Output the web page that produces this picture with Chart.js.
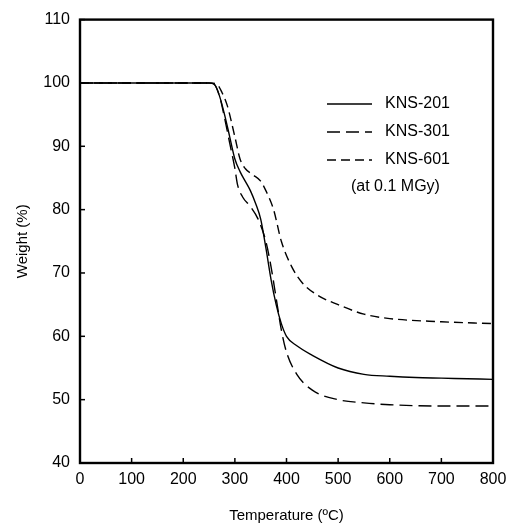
<!DOCTYPE html>
<html>
<head>
<meta charset="utf-8">
<script src="https://cdn.jsdelivr.net/npm/chart.js@4.4.1/dist/chart.umd.min.js"></script>
<style>
  html, body { margin: 0; padding: 0; background: #fff; }
  #wrap { width: 510px; height: 529px; }
</style>
</head>
<body>
<div id="wrap"><canvas id="tga"></canvas></div>
<script>
// Temperature (°C) / weight (%)
const temps201 = [0, 100, 200, 250, 260, 270, 280, 290, 300, 310, 320, 330, 340, 350, 360, 370, 380, 390, 400, 420, 450, 500, 550, 600, 650, 700, 750, 800];
const kns201   = [100, 100, 100, 100, 99.8, 98, 95, 91.5, 88, 86, 84.5, 83, 81, 78.5, 74, 69, 65, 62, 60, 58.5, 57, 55, 54, 53.7, 53.5, 53.4, 53.3, 53.2];

const temps301 = [0, 100, 200, 250, 260, 270, 280, 290, 300, 305, 315, 330, 345, 360, 370, 380, 390, 400, 420, 450, 500, 550, 600, 700, 800];
const kns301   = [100, 100, 100, 100, 99.8, 98, 94.5, 90.5, 86.5, 84, 82, 80.5, 78.5, 75, 71, 66, 61, 57.5, 54, 51.5, 50, 49.5, 49.2, 49, 49];

const temps601 = [0, 100, 200, 250, 265, 275, 285, 300, 310, 320, 335, 350, 360, 375, 390, 410, 430, 460, 500, 550, 600, 700, 800];
const kns601   = [100, 100, 100, 100, 99.8, 98.5, 96.5, 91.5, 88, 86.5, 85.5, 84.5, 83, 80, 75, 71, 68.5, 66.5, 65, 63.5, 62.8, 62.3, 62];

const xTicks = [0, 100, 200, 300, 400, 500, 600, 700, 800];
const yTicks = [40, 50, 60, 70, 80, 90, 100, 110];

const legendItems = [
  { label: "KNS-201", dash: [] },
  { label: "KNS-301", dash: [13, 6] },
  { label: "KNS-601", dash: [9, 5] }
];

const pts = (xs, ys) => xs.map((x, i) => ({ x: x, y: ys[i] }));
const FONT = "'Liberation Sans', Arial, sans-serif";

// frame, inward ticks and the legend block
const decor = {
  id: "decor",
  afterDraw(chart) {
    const c = chart.ctx, a = chart.chartArea;
    const xs = chart.scales.x, ys = chart.scales.y;
    c.save();
    c.strokeStyle = "#000";
    c.lineWidth = 1.5;
    xTicks.forEach(t => {
      const px = xs.getPixelForValue(t);
      c.beginPath(); c.moveTo(px, a.bottom); c.lineTo(px, a.bottom - 5); c.stroke();
    });
    yTicks.forEach(t => {
      const py = ys.getPixelForValue(t);
      c.beginPath(); c.moveTo(a.left, py); c.lineTo(a.left + 5, py); c.stroke();
    });
    c.lineWidth = 2.4;
    c.strokeRect(a.left, a.top, a.right - a.left, a.bottom - a.top);

    c.font = "16px " + FONT;
    c.fillStyle = "#000";
    c.textBaseline = "middle";
    legendItems.forEach((it, i) => {
      const y = 104 + i * 28;
      c.lineWidth = 1.4;
      c.setLineDash(it.dash);
      c.beginPath(); c.moveTo(327, y); c.lineTo(372, y); c.stroke();
      c.setLineDash([]);
      c.fillText(it.label, 385, y);
    });
    c.fillText("(at 0.1 MGy)", 351, 187);
    c.restore();
  }
};

const line = (data, dash) => ({
  data: data,
  showLine: true,
  borderColor: "#000",
  borderWidth: 1.4,
  borderDash: dash,
  pointRadius: 0,
  cubicInterpolationMode: "monotone",
  fill: false
});

new Chart(document.getElementById("tga"), {
  type: "scatter",
  data: {
    datasets: [
      line(pts(temps201, kns201), legendItems[0].dash),
      line(pts(temps301, kns301), legendItems[1].dash),
      line(pts(temps601, kns601), legendItems[2].dash)
    ]
  },
  options: {
    responsive: true,
    maintainAspectRatio: false,
    animation: false,
    layout: { padding: { left: 0, top: 16, right: 17, bottom: 0 } },
    plugins: { legend: { display: false }, tooltip: { enabled: false } },
    scales: {
      x: {
        type: "linear", min: 0, max: 800,
        afterBuildTicks: s => { s.ticks = xTicks.map(v => ({ value: v })); },
        afterFit: s => { s.height = 66; s.paddingLeft = 0; s.paddingRight = 0; },
        grid: { display: false, drawTicks: false },
        border: { display: false },
        ticks: { color: "#000", font: { family: FONT, size: 16 }, padding: 7, maxRotation: 0 },
        title: { display: true, text: "Temperature (ºC)", color: "#000", font: { family: FONT, size: 15 }, padding: { top: 8 } }
      },
      y: {
        min: 40, max: 110,
        afterBuildTicks: s => { s.ticks = yTicks.map(v => ({ value: v })); },
        afterFit: s => { s.width = 80; },
        grid: { display: false, drawTicks: false },
        border: { display: false },
        ticks: { color: "#000", font: { family: FONT, size: 16 }, padding: 10 },
        title: { display: true, text: "Weight (%)", color: "#000", font: { family: FONT, size: 15 }, padding: { top: 14, bottom: 4 } }
      }
    }
  },
  plugins: [decor]
});
</script>
</body>
</html>
